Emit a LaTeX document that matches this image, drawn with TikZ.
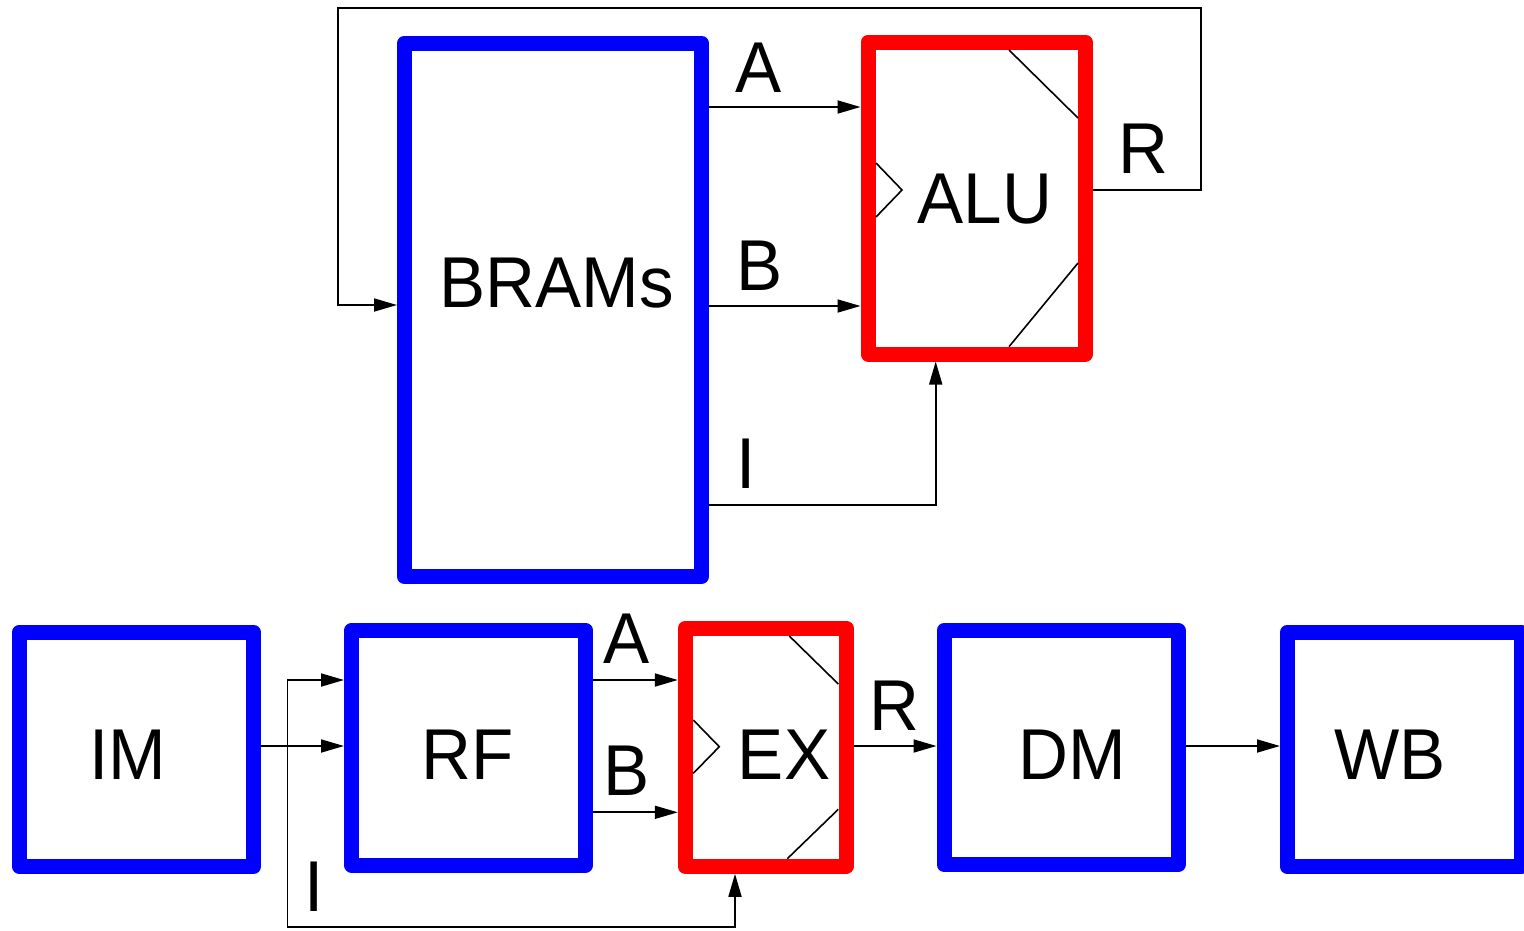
\documentclass[tikz,border=0pt]{standalone}
\usepackage{fontspec}
\setmainfont[FakeStretch=0.96]{Liberation Sans}
\usetikzlibrary{arrows.meta}
\begin{document}
\begin{tikzpicture}[x=1pt,y=-1pt,
  every node/.style={inner sep=0pt},
  block/.style={draw=blue, line width=15pt, line join=round, fill=white},
  alublock/.style={draw=red, line width=15pt, line join=round, fill=white},
  txt/.style={font=\fontsize{72}{72}\selectfont, anchor=center},
  wire/.style={draw=black, line width=1.8pt, line join=miter},
  arr/.style={wire, -{Triangle[length=23pt,width=13pt]}},
  glyph/.style={draw=black, line width=1.6pt}
]
\useasboundingbox (0,0) rectangle (1524,930);

% ---------- upper datapath ----------
\node[block, minimum width=297pt, minimum height=533.5pt] (brams) at (553,309.75) {};
\node[alublock, minimum width=217.5pt, minimum height=312pt] (alu) at (976.75,198) {};
\draw[glyph] (1009,50) -- (1078,118);
\draw[glyph] (1078,263) -- (1009,346.7);
\draw[glyph] (876,163) -- (902,190) -- (876,217);

\node[txt] (bramsT) at (557,283) {BRAMs};
\node[txt] (aluT) at (985,199) {ALU};
\node[txt] (labA) at (759,68) {A};
\node[txt] (labB) at (760,266) {B};
\node[txt] (labI) at (746,464) {I};
\node[txt] (labR) at (1143,149) {R};

\draw[arr] (brams.east |- 0,107) -- (alu.west |- 0,107);
\draw[arr] (brams.east |- 0,306) -- (alu.west |- 0,306);
\draw[arr] (brams.east |- 0,505) -| (alu.south -| 935.7,0);
\draw[arr] (alu.east |- 0,190) -- (1200.7,190) |- (338,8) |- (brams.west |- 0,305);

% ---------- five-stage pipeline ----------
\node[block, minimum width=234pt, minimum height=234.7pt] (im) at (136.45,749.35) {};
\node[block, minimum width=234.2pt, minimum height=234.7pt] (rf) at (468.6,747.65) {};
\node[alublock, minimum width=160.7pt, minimum height=238.3pt] (ex) at (765.65,747.15) {};
\node[block, minimum width=234pt, minimum height=234.4pt] (dm) at (1061,747.5) {};
\node[block, minimum width=234pt, minimum height=234.8pt] (wb) at (1404.5,749.4) {};

\draw[glyph] (789.3,636) -- (838.3,684);
\draw[glyph] (838.3,809.3) -- (787.3,858.7);
\draw[glyph] (693.3,720) -- (719.3,746.7) -- (693.3,773.3);

\node[txt] (imT) at (128,755) {IM};
\node[txt] (rfT) at (468,755) {RF};
\node[txt] (exT) at (784,755) {EX};
\node[txt] (dmT) at (1072,755) {DM};
\node[txt] (wbT) at (1390,755) {WB};
\node[txt] (labA2) at (626.3,639) {A};
\node[txt] (labB2) at (627,771) {B};
\node[txt] (labR2) at (894.7,706) {R};
\node[txt] (labI2) at (314,887) {I};

\coordinate (split) at (287.5,746);
\draw[arr] (im.east |- split) -- (rf.west |- split);
\draw[arr] (split) |- (rf.west |- 0,680);
\draw[arr] (split) |- (735,927) -- (ex.south -| 735,0);
\draw[arr] (rf.east |- 0,680) -- (ex.west |- 0,680);
\draw[arr] (rf.east |- 0,812.3) -- (ex.west |- 0,812.3);
\draw[arr] (ex.east |- 0,746) -- (dm.west |- 0,746);
\draw[arr] (dm.east |- 0,746) -- (wb.west |- 0,746);
\end{tikzpicture}
\end{document}
